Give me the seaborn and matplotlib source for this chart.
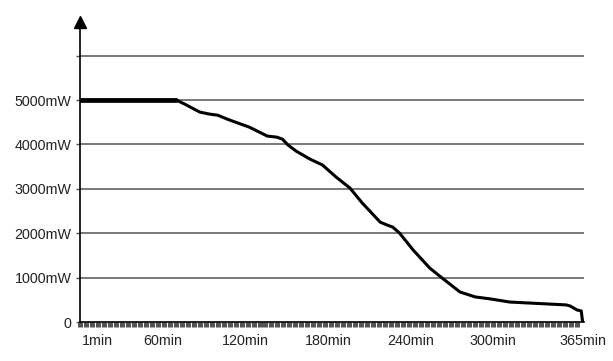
import matplotlib
matplotlib.use("Agg")
import matplotlib.pyplot as plt
from matplotlib.ticker import MultipleLocator
import seaborn as sns
import pandas as pd

# Data
minutes = [0, 70, 76, 87, 94, 100, 107, 123, 136, 143, 147, 151, 157, 167, 176,
           186, 196, 205, 218, 223, 227, 232, 242, 254, 263, 276, 287, 298, 312,
           353, 356, 361, 364, 365]
power_mw = [5000, 5000, 4910, 4730, 4685, 4660, 4570, 4390, 4190, 4165, 4120,
            3990, 3850, 3670, 3540, 3265, 3020, 2680, 2250, 2185, 2140, 2005,
            1620, 1215, 990, 675, 565, 520, 450, 385, 360, 270, 250, 0]
x_ticks = [1, 60, 120, 180, 240, 300, 365]
x_labels = ["1min", "60min", "120min", "180min", "240min", "300min", "365min"]
y_ticks = [0, 1000, 2000, 3000, 4000, 5000, 6000]
y_labels = ["0", "1000mW", "2000mW", "3000mW", "4000mW", "5000mW", ""]

df = pd.DataFrame({"minutes": minutes, "power": power_mw})

sns.set_theme(style="white")
plt.rcParams["font.family"] = ["Liberation Sans", "DejaVu Sans"]

W, H = 613, 361
fig = plt.figure(figsize=(W / 100, H / 100), dpi=100)
ax = fig.add_axes([80 / W, 1 - 322 / H, (584 - 80) / W, (322 - 22) / H])

# grid lines
for yv in y_ticks[1:]:
    ax.axhline(yv, color="#555555", lw=1.1, zorder=1)

sns.lineplot(data=df, x="minutes", y="power", color="black", lw=2.2,
             ax=ax, zorder=3, estimator=None, sort=False,
             solid_joinstyle="round", solid_capstyle="round")
flat = df[df["power"] == df["power"].max()]
sns.lineplot(data=flat, x="minutes", y="power", color="black", lw=3.4,
             ax=ax, zorder=3, estimator=None)

ax.set_xlim(0, 366)
ax.set_ylim(0, 6760)
ax.set_xlabel("")
ax.set_ylabel("")

ax.set_xticks(x_ticks)
ax.set_xticklabels(x_labels, fontsize=10.3, color="#222222")
ax.xaxis.set_minor_locator(MultipleLocator(365 / 84))
ax.tick_params(axis="x", which="major", length=0, pad=8.5)
ax.tick_params(axis="x", which="minor", bottom=True, length=3.4, width=3.6,
               color="#555555", direction="out")
lbl0 = ax.get_xticklabels()[0]
lbl0.set_horizontalalignment("left")

ax.set_yticks(y_ticks)
ax.set_yticklabels(y_labels, fontsize=10.3, color="#222222")
ax.tick_params(axis="y", which="major", left=True, length=3, width=1.0,
               color="#555555", pad=3)

for s in ["top", "right"]:
    ax.spines[s].set_visible(False)
ax.spines["left"].set_color("black")
ax.spines["left"].set_linewidth(1.2)
ax.spines["bottom"].set_color("black")
ax.spines["bottom"].set_linewidth(1.2)

# arrow head at top of y axis
ax.plot([0], [1.0], marker="^", color="black", markersize=8,
        transform=ax.transAxes, clip_on=False, zorder=5)

fig.savefig("out.png", dpi=100)
